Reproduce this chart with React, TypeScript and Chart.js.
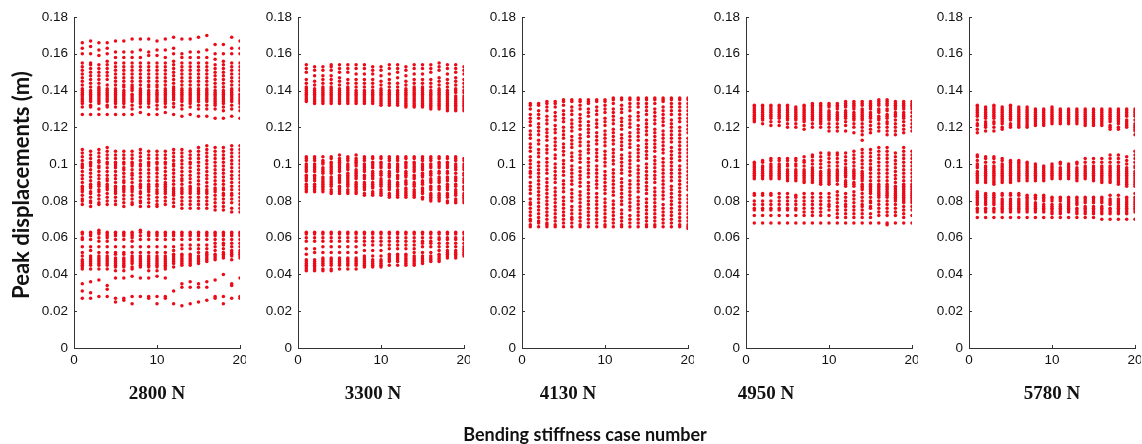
import React, { useEffect, useRef } from "react";
import { Chart, registerables } from "chart.js";

Chart.register(...registerables);

// Case numbers 1..20 on the x axis; values below are peak displacements in mm (1/1000 m), one array per case.
const caseNumbers = Array.from({ length: 20 }, (_, i) => i + 1);
const xTicks = [0, 10, 20];
const yTicks = [0, 0.02, 0.04, 0.06, 0.08, 0.1, 0.12, 0.14, 0.16, 0.18];
const panelLabels = ["2800 N", "3300 N", "4130 N", "4950 N", "5780 N"];

const p2800 = [
  [166,163,160,155,153,151,149,147,145,143,141,140,139,138,137,136,135,134,133,131,127,108,106,104,102,100,99,98,96,94,92,90,88,87,86,85,83,81,80,78,63,62,60,59,55,52,50,48,47,46,45,44,43,35,31,27],
  [167,164,160,155,154,152,150,148,146,144,142,140,139,138,137,136,135,134,132,131,127,107,105,103,101,100,99,97,95,93,91,89,88,87,85,84,82,80,79,77,63,62,61,59,55,53,50,49,48,47,46,45,43,36,30,27],
  [166,162,159,154,152,150,148,146,144,142,141,140,139,138,137,136,135,134,133,130,127,108,106,104,102,101,99,98,96,94,92,90,89,88,86,85,83,81,79,78,64,63,62,60,58,55,52,50,49,48,47,46,45,43,37,28],
  [166,163,160,156,154,152,150,148,146,143,141,140,139,138,137,136,135,134,132,131,127,109,107,105,103,101,100,98,96,94,92,91,89,88,87,86,84,82,80,78,63,62,61,60,58,55,52,50,49,48,47,46,45,43,34,32,28],
  [167,161,158,155,153,151,149,147,145,143,141,140,139,138,137,136,135,134,133,131,127,107,105,103,101,100,99,98,96,94,92,90,88,87,86,85,84,82,80,78,63,62,61,59,55,52,51,49,48,47,46,45,44,42,38,27,25],
  [167,161,158,155,153,151,149,147,145,143,142,140,139,138,137,136,135,134,133,131,127,107,105,103,101,100,98,97,95,93,91,90,88,87,86,85,83,81,79,77,63,62,61,59,55,52,51,49,48,47,46,45,44,42,38,27,26],
  [168,161,158,155,153,151,149,147,145,143,142,141,140,138,137,136,135,134,132,130,127,107,105,103,101,100,99,97,95,94,92,90,88,87,86,85,83,81,79,78,63,62,61,60,58,55,52,50,49,48,47,46,44,43,39,28,24],
  [168,162,158,155,153,151,149,147,145,143,141,140,139,138,137,136,135,134,133,131,128,108,106,104,102,100,99,97,95,93,91,89,88,87,85,84,82,80,79,77,64,63,61,59,55,52,50,49,48,47,46,45,44,38,28],
  [168,161,159,155,153,151,149,147,145,143,142,140,139,138,137,136,135,134,133,131,127,107,105,103,101,100,99,97,95,93,91,89,88,87,86,85,83,81,79,77,63,62,61,59,55,52,50,49,48,47,46,45,44,42,38,28,27],
  [167,162,159,155,153,151,149,147,145,143,142,140,139,138,137,136,135,134,132,130,127,107,105,103,101,100,98,97,95,93,91,89,88,86,85,84,82,80,78,77,63,62,61,59,55,52,50,49,48,47,46,45,44,42,39,28,24],
  [168,162,158,155,153,151,149,147,145,143,141,140,139,138,137,136,135,134,133,131,128,107,105,103,101,100,98,96,94,92,90,89,88,87,86,85,84,82,80,78,63,62,61,59,55,52,50,49,48,47,46,45,44,43,38,28,27],
  [169,163,160,156,154,152,150,148,146,144,142,141,140,139,138,137,136,135,133,131,127,108,106,104,102,100,99,97,95,93,91,89,87,86,85,84,83,81,79,77,63,62,61,59,55,53,51,50,49,48,47,46,44,31,24],
  [168,160,158,155,153,151,149,147,145,143,141,140,139,138,137,136,135,134,132,130,126,108,106,104,102,100,98,96,94,92,91,89,87,86,85,84,82,80,78,76,63,62,61,59,56,54,51,50,49,48,47,46,45,35,33,23],
  [168,161,158,155,153,151,149,147,145,143,141,140,139,138,137,136,135,134,133,131,127,107,105,103,101,100,98,96,94,92,90,88,87,86,85,84,82,80,78,76,63,62,61,59,56,54,51,50,49,48,47,46,45,36,33,24],
  [169,161,158,155,153,151,149,147,145,143,141,140,139,138,137,136,135,134,132,130,126,109,107,105,103,101,99,97,95,93,91,89,87,86,85,84,82,80,78,76,63,62,61,59,56,54,52,50,49,48,47,46,35,33,25],
  [170,162,158,155,153,151,149,147,145,143,141,140,139,138,137,136,135,134,132,130,126,110,108,106,104,102,100,98,96,94,92,90,88,86,85,84,82,80,78,76,63,62,61,59,56,54,52,51,50,49,48,47,36,33,26],
  [165,160,157,154,152,150,148,146,144,142,140,139,138,137,136,135,134,133,132,130,125,109,107,105,103,101,99,97,95,93,91,89,87,86,85,83,81,79,77,75,63,62,61,59,57,55,53,51,50,49,48,37,28,27],
  [165,160,156,154,152,150,148,146,144,142,140,139,138,137,136,135,134,133,131,129,125,109,107,105,103,101,99,97,95,93,91,89,87,86,84,83,81,79,77,75,63,62,61,59,57,56,54,52,51,50,49,40,28,24],
  [169,163,160,155,153,151,149,147,145,143,141,140,139,138,137,136,135,134,132,130,126,110,108,106,104,102,100,98,96,94,92,90,88,86,84,83,81,79,76,74,63,62,61,59,57,55,53,52,51,50,48,35,34,27],
  [167,163,160,155,153,151,149,147,145,143,141,140,138,137,136,135,134,133,131,129,125,110,108,106,104,102,100,98,96,94,92,90,88,86,84,82,80,78,76,74,63,62,61,59,57,55,53,52,51,50,49,38,28,27],
];

const p3300 = [
  [154,152,150,146,144,142,141,140,139,138,137,136,135,134,104,103,102,100,99,98,97,96,94,93,92,91,89,88,87,86,85,63,62,60,58,54,51,48,47,46,45,44,43,42],
  [153,151,148,145,143,141,140,139,138,137,136,135,134,133,104,103,102,100,99,98,97,96,94,93,92,91,89,88,87,86,85,63,62,60,58,54,52,48,47,46,45,44,43,42],
  [153,151,148,146,144,142,141,140,139,138,137,136,135,134,133,104,102,101,100,98,97,96,95,93,92,91,90,89,88,87,86,85,63,62,60,58,55,52,49,48,47,46,45,43,42],
  [154,153,151,148,146,144,142,141,140,139,138,137,136,135,134,133,104,103,101,100,99,98,97,96,95,93,92,91,90,89,88,86,85,84,63,62,60,58,55,52,49,48,47,46,45,43,42],
  [154,152,150,147,145,143,141,140,139,138,137,136,135,134,133,105,103,102,101,100,99,98,97,96,94,93,92,91,90,88,87,86,85,84,63,62,60,58,55,52,49,48,47,46,45,43],
  [154,152,150,146,144,142,141,140,139,138,137,136,135,134,133,104,103,102,100,99,98,97,95,94,93,92,91,90,89,88,86,85,84,63,62,60,58,55,52,49,48,47,46,45,43],
  [154,152,149,146,144,142,140,139,138,137,136,135,134,133,105,103,102,101,100,99,97,96,95,94,93,92,90,89,88,87,86,85,84,63,62,60,58,55,52,49,48,47,46,45,43],
  [154,152,149,146,144,142,140,139,138,137,136,135,134,133,104,103,102,100,99,98,97,96,94,93,92,90,89,88,87,86,84,83,63,62,60,58,56,53,50,49,48,47,46,45,44],
  [153,151,149,146,144,142,140,139,138,137,136,135,134,133,104,103,101,100,99,98,96,95,94,93,92,90,89,88,87,85,84,83,63,62,60,58,56,53,50,48,47,46,45,44],
  [153,151,148,145,143,141,140,139,138,137,136,135,134,133,132,104,103,101,100,99,98,96,95,94,92,91,90,89,88,86,85,84,83,63,62,60,58,56,53,50,48,47,46,45,44],
  [154,152,149,146,144,142,140,139,138,137,136,135,134,133,132,104,103,102,100,99,98,96,95,94,93,91,90,89,88,87,86,84,83,82,63,62,60,58,56,54,51,50,49,48,47,45],
  [154,152,150,147,144,142,140,139,138,137,136,135,134,133,132,104,103,102,100,99,98,97,96,94,93,92,90,89,88,86,85,84,83,82,63,62,60,58,56,54,51,50,49,48,47,45],
  [153,151,148,145,143,141,140,139,138,137,136,135,134,133,132,131,104,103,101,100,99,98,96,95,94,93,91,90,89,87,86,85,84,83,82,63,62,60,58,56,54,51,50,49,48,47,46,45],
  [154,152,149,146,144,142,141,140,139,138,137,136,135,134,133,132,131,104,103,101,100,99,98,97,96,94,93,92,90,89,88,86,85,84,83,82,63,62,60,58,56,54,52,50,49,48,47,46,45],
  [154,152,149,146,144,142,141,140,139,138,137,136,135,134,133,132,131,104,103,102,100,99,98,97,95,94,93,91,90,89,87,86,85,84,82,81,63,62,60,58,57,55,52,50,49,48,47,46],
  [154,152,150,146,144,142,140,139,138,137,136,135,134,133,132,131,130,104,103,102,100,99,98,96,95,94,92,91,90,88,87,86,84,83,82,81,80,63,62,60,58,57,55,52,50,49,48,47],
  [155,153,151,147,145,143,141,140,139,138,137,136,135,134,133,132,131,130,104,103,101,100,99,98,96,95,93,92,91,90,88,87,86,84,83,82,81,80,63,62,60,59,57,55,53,51,50,49,48,47],
  [154,152,149,146,144,142,140,139,138,137,136,135,134,133,132,131,130,129,104,103,101,100,99,98,96,95,93,92,91,89,88,87,86,84,83,82,80,79,63,62,60,59,57,55,53,52,51,50,49],
  [154,152,150,147,145,143,141,140,139,137,136,135,134,133,132,131,130,129,104,103,102,100,99,98,97,95,93,92,91,89,88,86,85,84,83,81,80,79,63,62,60,59,57,55,53,52,51,50,49],
  [153,151,149,146,144,142,140,139,137,136,135,134,133,132,131,130,129,103,102,100,99,98,97,95,94,92,91,90,88,87,86,84,83,82,81,80,79,63,62,60,59,57,55,54,53,52,51,50],
];

const p4130 = [
  [133,132,130,127,125,123,121,118,116,114,111,109,107,104,102,100,98,96,95,93,90,88,86,84,81,79,78,76,74,72,70,69,67,66],
  [133,132,129,127,125,122,120,118,116,113,111,108,106,104,101,99,97,95,93,91,89,87,85,83,81,79,77,75,73,71,69,68,66],
  [134,133,131,129,126,124,122,119,117,115,113,110,108,106,103,101,99,97,95,92,90,88,86,84,82,80,78,76,74,72,70,68,67,66],
  [134,133,131,128,126,124,121,119,117,114,112,110,108,105,103,100,98,96,94,92,90,87,85,83,81,79,77,75,73,71,69,67,66],
  [135,134,132,129,127,125,123,120,118,116,114,111,109,107,105,102,100,98,96,94,91,89,87,85,82,80,78,76,74,72,70,68,66],
  [135,134,131,129,127,124,122,120,118,115,113,111,109,106,104,102,99,97,95,93,91,89,86,84,82,80,77,75,73,71,70,68,66],
  [135,134,132,130,127,125,123,121,119,116,114,112,110,107,105,103,101,98,96,94,92,90,88,85,83,81,79,77,75,73,71,69,67,66],
  [135,134,133,130,128,126,123,121,119,117,115,112,110,108,106,103,101,99,97,95,93,90,88,86,84,82,80,78,76,74,72,70,68,66],
  [135,134,131,129,127,124,122,120,117,115,113,111,108,106,104,102,99,97,95,93,91,89,87,84,82,80,78,76,74,72,70,68,66],
  [135,134,132,130,128,125,123,121,118,116,114,112,110,107,105,103,101,99,96,94,92,90,88,86,84,81,79,77,75,73,71,69,67,66],
  [136,135,133,130,128,126,124,122,119,117,115,113,111,108,106,104,102,100,97,95,93,91,89,87,85,83,80,78,76,74,72,70,68,66],
  [136,135,132,130,128,125,123,121,119,116,114,112,110,108,105,103,101,99,97,95,92,90,88,86,84,82,80,78,75,73,71,69,67,66],
  [136,135,133,131,129,126,124,122,120,117,115,113,111,109,106,104,102,100,98,96,94,91,89,87,85,83,81,79,77,75,72,70,68,66],
  [136,135,133,131,128,126,124,121,119,117,115,113,110,108,106,104,102,99,97,95,93,91,89,87,85,82,80,78,76,74,72,70,68,66],
  [136,135,133,131,129,127,124,122,120,118,116,113,111,109,107,105,103,100,98,96,94,92,90,88,86,84,81,79,77,75,73,71,69,67,66],
  [136,135,133,130,128,126,124,122,119,117,115,113,111,109,107,104,102,100,98,96,94,92,90,87,85,83,81,79,77,75,73,71,69,67,66],
  [136,135,134,131,129,127,125,123,121,118,116,114,112,110,108,106,103,101,99,97,95,93,91,89,87,85,83,81,78,76,74,72,70,68,66],
  [136,135,133,131,129,127,124,122,120,118,116,114,112,109,107,105,103,101,99,97,95,93,91,88,86,84,82,80,78,76,74,72,70,68,66],
  [136,135,133,131,129,127,125,123,120,118,116,114,112,110,108,106,104,102,99,97,95,93,91,89,87,85,83,81,79,77,75,73,71,69,67,66],
  [136,135,133,131,129,127,125,123,121,119,117,114,112,110,108,106,104,102,100,98,96,94,92,90,88,86,83,81,79,77,75,73,71,69,67,66,65],
];

const p4950 = [
  [132,131,130,129,128,127,126,125,124,123,101,100,99,98,97,96,95,94,93,92,84,83,80,78,76,75,72,68],
  [132,131,130,129,128,127,126,125,124,122,102,101,99,98,97,96,95,94,93,92,84,83,80,78,76,75,72,68],
  [132,131,130,129,128,127,126,125,123,121,103,102,100,99,98,97,96,95,94,93,92,84,83,80,78,76,75,72,68],
  [132,131,130,129,128,127,126,125,123,121,103,102,100,99,98,97,96,95,94,93,92,84,82,80,78,76,75,72,68],
  [132,131,130,129,128,127,126,125,124,122,120,103,102,100,99,97,96,95,94,93,92,91,84,82,80,78,76,75,72,68],
  [131,130,129,128,127,126,125,124,122,120,103,102,100,99,97,96,95,94,93,92,91,83,82,80,78,76,75,72,68],
  [132,131,130,129,128,127,126,125,124,123,121,119,104,102,101,99,97,96,95,94,93,92,91,90,84,82,80,78,76,74,72,68],
  [133,132,131,130,129,128,127,126,125,124,122,120,105,104,102,100,98,97,96,95,94,93,92,91,90,84,82,80,78,76,74,72,68],
  [133,132,131,130,129,128,127,126,125,124,123,122,120,106,104,102,100,98,96,95,94,93,92,91,90,89,84,82,80,78,76,74,72,68],
  [133,132,131,129,128,127,126,125,124,122,120,118,106,105,103,101,99,97,96,95,94,93,92,91,90,89,84,82,80,78,77,75,72,68],
  [133,132,131,130,128,127,126,125,124,122,120,118,106,105,103,101,99,97,96,95,94,93,92,91,89,85,83,81,79,77,75,73,71,68],
  [134,133,132,131,129,128,127,126,125,123,121,118,106,104,102,100,98,97,96,95,94,93,91,90,89,88,84,82,80,78,77,75,73,71,68],
  [134,133,132,131,130,128,127,126,125,124,122,120,117,107,105,103,101,99,97,96,95,94,93,92,90,89,88,85,83,81,79,77,75,73,71,68],
  [134,133,132,130,129,128,127,126,125,124,122,120,118,116,113,108,106,104,102,100,98,96,95,94,93,92,91,89,88,87,86,84,82,80,78,77,75,73,71,68],
  [134,133,132,131,130,128,127,126,125,123,121,119,117,108,106,104,102,100,98,97,95,93,91,89,88,87,86,85,84,82,80,79,77,76,73,71,68],
  [135,134,133,132,130,129,128,126,125,124,122,120,118,109,107,105,103,101,99,97,95,93,91,89,88,87,86,85,84,83,82,80,78,76,74,72,68],
  [135,134,133,132,130,129,127,126,125,123,122,120,118,116,109,107,105,103,101,99,97,95,93,91,89,88,87,86,85,84,83,82,80,78,76,74,72,68,67],
  [134,133,132,131,130,128,127,126,124,122,120,118,116,106,104,102,100,98,96,94,92,90,88,87,86,85,84,83,82,81,80,78,76,74,72,68],
  [134,133,132,131,130,128,127,126,125,123,121,119,117,109,107,105,103,101,99,97,95,93,91,89,88,87,86,85,84,83,82,81,80,79,77,75,73,71,68],
  [134,133,132,131,130,128,126,124,122,120,118,107,105,103,101,99,97,95,93,91,89,88,87,86,85,84,83,82,81,80,79,77,75,72,68],
];

const p5780 = [
  [132,131,130,129,128,127,126,124,122,121,119,117,105,104,102,100,99,98,96,95,94,93,92,91,90,85,84,83,82,81,80,79,78,76,75,74,71],
  [131,130,129,128,127,126,125,123,122,121,120,118,104,103,101,99,98,97,96,95,94,93,92,91,90,84,83,82,81,80,79,78,76,75,74,71],
  [132,131,130,129,128,127,126,125,123,122,120,118,104,103,101,99,98,97,96,95,94,93,92,91,90,89,84,83,82,81,80,79,78,76,75,74,71],
  [131,130,129,128,127,126,125,124,123,122,120,119,103,102,100,99,98,97,96,95,94,93,92,91,90,84,83,81,80,79,78,77,76,75,74,71],
  [132,131,130,129,128,127,126,125,124,122,121,120,102,101,100,99,98,97,96,95,94,93,92,91,90,84,83,81,80,79,78,77,76,75,74,71],
  [131,130,129,128,127,126,125,124,123,122,121,120,102,101,100,99,98,97,96,95,94,93,92,91,84,83,81,80,79,78,77,76,75,74,71],
  [131,130,129,128,127,126,125,124,123,122,121,120,101,100,99,98,97,96,95,94,93,92,91,83,82,81,80,79,78,77,76,75,74,71],
  [130,129,128,127,126,125,124,123,122,121,100,99,98,97,96,95,94,93,92,91,83,82,81,79,78,77,76,75,74,71],
  [130,129,128,127,126,125,124,123,122,121,99,98,97,96,95,94,93,92,91,83,82,81,80,78,77,76,75,74,71],
  [131,130,129,128,127,126,125,124,123,122,100,99,98,97,96,95,94,93,92,82,81,80,78,77,76,75,74,73,71],
  [130,129,128,127,126,125,124,123,122,101,100,98,97,96,95,94,93,92,82,81,80,78,77,76,75,74,73,71],
  [130,129,128,127,126,125,124,123,122,100,99,98,97,96,95,94,93,92,82,81,80,79,78,77,76,75,74,71],
  [130,129,128,127,126,125,124,123,122,101,100,98,97,96,95,94,93,92,91,82,81,80,79,78,76,75,74,73,71],
  [130,129,128,127,126,125,124,123,122,121,103,101,99,98,97,96,95,94,93,92,82,81,80,79,77,76,75,74,73,71],
  [130,129,128,127,126,125,124,123,122,121,103,101,99,98,97,96,95,94,93,92,91,82,81,80,79,77,76,75,74,73,71],
  [130,129,128,127,126,125,124,123,122,121,103,101,99,98,97,96,95,94,93,92,91,90,82,81,80,79,77,76,75,74,73,70],
  [130,129,128,127,126,125,124,123,121,120,119,105,103,101,99,98,97,96,95,94,93,92,91,90,83,81,80,79,78,76,75,74,73,70],
  [130,129,128,127,126,125,124,123,122,120,119,105,103,101,99,98,97,96,95,94,93,92,91,90,89,83,81,80,79,78,77,76,75,74,73,70],
  [130,129,128,127,126,124,123,122,121,120,104,102,100,98,97,96,95,94,93,92,91,90,89,88,82,81,80,79,78,77,76,75,74,73,70],
  [130,129,128,127,126,124,122,121,120,119,118,116,107,105,103,101,99,98,96,95,94,93,92,91,90,89,88,84,82,81,80,79,78,77,76,75,74,70],
];

const panelData = [p2800, p3300, p4130, p4950, p5780];

// layout constants
const AXIS_X = [74, 298, 522, 746, 969];
const LABEL_CX = [157, 373, 568, 766, 1052];
const PLOT_W = 166;
const Y_AXIS_W = 50;
const TOP = 17;
const BOTTOM = 348;
const H = 444;
const RIGHT_PAD = 6;
const CANVAS_W = Y_AXIS_W + PLOT_W + RIGHT_PAD;

const inwardTicks = {
  id: "inwardTicks",
  afterDraw(chart: any) {
    const ctx = chart.ctx;
    const { left, bottom } = chart.chartArea;
    const xs = chart.scales.x;
    const ys = chart.scales.y;
    ctx.save();
    ctx.strokeStyle = "#333";
    ctx.lineWidth = 1;
    ctx.beginPath();
    for (const t of xTicks) {
      const px = Math.round(xs.getPixelForValue(t)) + 0.5;
      ctx.moveTo(px, bottom);
      ctx.lineTo(px, bottom - 3);
    }
    for (const t of yTicks) {
      const py = Math.round(ys.getPixelForValue(t)) + 0.5;
      ctx.moveTo(left, py);
      ctx.lineTo(left + 3, py);
    }
    ctx.stroke();
    ctx.restore();
  },
};

function Panel({ idx }: { idx: number }) {
  const ref = useRef<HTMLCanvasElement | null>(null);
  useEffect(() => {
    if (!ref.current) return;
    const cols = panelData[idx];
    const points: { x: number; y: number }[] = [];
    cols.forEach((col, ci) => {
      col.forEach((v) => points.push({ x: caseNumbers[ci], y: v / 1000 }));
    });
    const tickFont = { family: "'Liberation Sans', Arial, sans-serif", size: 13.5 };
    const chart = new Chart(ref.current, {
      type: "scatter",
      data: {
        datasets: [
          {
            data: points,
            backgroundColor: "rgb(236,10,24)",
            borderWidth: 0,
            pointRadius: 1.75,
            pointHoverRadius: 1.75,
          },
        ],
      },
      options: {
        animation: false,
        responsive: false,
        events: [],
        layout: { padding: { top: TOP, right: RIGHT_PAD, left: 0, bottom: 0 } },
        plugins: { legend: { display: false }, tooltip: { enabled: false } },
        scales: {
          x: {
            type: "linear",
            min: 0,
            max: 20,
            afterBuildTicks: (s: any) => {
              s.ticks = xTicks.map((v) => ({ value: v }));
            },
            ticks: { font: tickFont, color: "#111", padding: 4, maxRotation: 0 },
            grid: { display: false, drawTicks: false },
            border: { display: true, color: "#333", width: 1 },
            afterFit: (s: any) => {
              s.height = H - BOTTOM;
              s.paddingLeft = 0;
              s.paddingRight = 0;
            },
          },
          y: {
            type: "linear",
            min: 0,
            max: 0.18,
            afterBuildTicks: (s: any) => {
              s.ticks = yTicks.map((v) => ({ value: v }));
            },
            ticks: {
              font: tickFont,
              color: "#111",
              padding: 6,
              callback: (v: any) => String(Number(Number(v).toFixed(2))),
            },
            grid: { display: false, drawTicks: false },
            border: { display: true, color: "#333", width: 1 },
            afterFit: (s: any) => {
              s.width = Y_AXIS_W;
              s.paddingTop = 0;
              s.paddingBottom = 0;
            },
          },
        },
      },
      plugins: [inwardTicks],
    } as any);
    return () => chart.destroy();
  }, [idx]);
  return (
    <canvas
      ref={ref}
      width={CANVAS_W}
      height={H}
      style={{ position: "absolute", left: AXIS_X[idx] - Y_AXIS_W, top: 0, width: CANVAS_W, height: H }}
    />
  );
}

export default function App() {
  return (
    <div style={{ position: "fixed", left: 0, top: 0, width: 1142, height: 444, background: "#fff", overflow: "hidden" }}>
      {panelLabels.map((_, i) => (
        <Panel key={i} idx={i} />
      ))}
      {panelLabels.map((lab, i) => (
        <div
          key={"l" + i}
          style={{
            position: "absolute",
            left: LABEL_CX[i] - 60,
            width: 120,
            top: 382,
            textAlign: "center",
            fontFamily: "'Liberation Serif', 'Times New Roman', serif",
            fontWeight: "bold",
            fontSize: 19,
            lineHeight: "22px",
            color: "#111",
          }}
        >
          {lab}
        </div>
      ))}
      <div
        style={{
          position: "absolute",
          left: 21 - 150,
          top: 185 - 13,
          width: 300,
          height: 26,
          lineHeight: "26px",
          textAlign: "center",
          transform: "rotate(-90deg)",
          fontFamily: "Lato, 'Open Sans', sans-serif",
          fontWeight: "bold",
          fontSize: 22,
          color: "#111",
        }}
      >
        Peak displacements (m)
      </div>
      <div
        style={{
          position: "absolute",
          left: 585 - 200,
          top: 422,
          width: 400,
          lineHeight: "24px",
          textAlign: "center",
          fontFamily: "Lato, 'Open Sans', sans-serif",
          fontWeight: "bold",
          fontSize: 18,
          color: "#111",
        }}
      >
        Bending stiffness case number
      </div>
    </div>
  );
}
